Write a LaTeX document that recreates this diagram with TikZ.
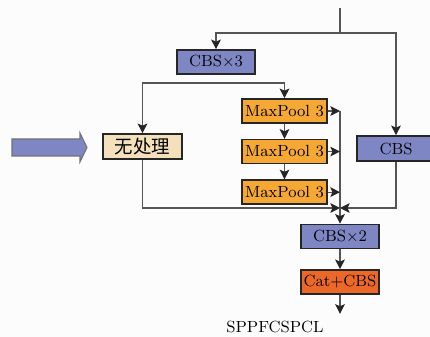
\documentclass[tikz,border=0pt]{standalone}
\usepackage{fontspec}
\newfontfamily\cjk{Noto Sans CJK SC}
\usetikzlibrary{arrows.meta, positioning, calc}

\definecolor{cbsblue}{RGB}{126,135,196}
\definecolor{poolorange}{RGB}{246,168,52}
\definecolor{catorange}{RGB}{236,104,40}
\definecolor{rawbeige}{RGB}{244,225,188}
\definecolor{linegray}{RGB}{85,85,85}

\begin{document}
\begin{tikzpicture}[x=0.02cm, y=-0.02cm]

    \tikzset
    {
        font={\fontsize{9.2}{10}\selectfont},
        block/.style={draw=black!85, line width=0.9pt, minimum height=0.48cm, inner sep=0pt},
        cbs/.style={block, fill=cbsblue, minimum width=1.56cm},
        pool/.style={block, fill=poolorange, minimum width=1.7cm},
        link/.style={draw=linegray, line width=0.6pt},
        arr/.style={link, -{Stealth[length=5.5pt,width=5.5pt,inset=1.2pt,color=black!85]}}
    }

    \clip (0,0) rectangle (430,337);
    \fill[black!1] (0,0) rectangle (430,337);

    % boxes
    \node[cbs] (cbsthree) at (216,62) {CBS$\times$3};
    \node[pool] (poolone) at (284.5,111) {MaxPool 3};
    \node[pool, below=0.3cm of poolone] (pooltwo) {MaxPool 3};
    \node[pool, below=0.3cm of pooltwo] (poolthree) {MaxPool 3};
    \node[block, fill=rawbeige, minimum width=1.58cm, minimum height=0.5cm, font={\fontsize{10.5}{11}\cjk}] (raw) at (142.5,146.5) {无处理};
    \node[cbs, minimum height=0.5cm] (cbsright) at (396,148.5) {CBS};
    \node[cbs] (cbstwo) at (340,236.5) {CBS$\times$2};
    \node[block, fill=catorange, minimum width=1.56cm] (catcbs) at (340,282) {Cat+CBS};
    \node (name) at (275,327) {SPPFCSPCL};

    % input arrow
    \draw[draw=black!55, fill=cbsblue, line width=0.6pt] (12,139) -- (80,139) -- (80,133) -- (87,147.5) -- (80,162) -- (80,156) -- (12,156) -- cycle;

    % top split
    \coordinate (top) at (340,8);
    \coordinate (split) at (340,33);
    \coordinate (merge) at (340,208);
    \draw[link] (top) -- (split);
    \draw[arr] (split) -| (cbsthree.north);
    \draw[arr] (split) -| (cbsright.north);

    % pooling branch
    \coordinate (fork) at (216,83);
    \draw[arr] (fork) -| (raw.north);
    \draw[arr] (fork) -| (poolone.north);
    \draw[arr] (poolone) -- (pooltwo);
    \draw[arr] (pooltwo) -- (poolthree);
    \draw[link] (poolone.east -| merge) -- (merge);
    \foreach \p in {poolone, pooltwo, poolthree}
    {
        \draw[arr] (\p.east) -- (\p.east -| merge);
    }

    % merge
    \draw[arr] (raw.south) |- (merge);
    \draw[arr] (cbsright.south) |- (merge);
    \draw[arr] (merge) -- (cbstwo.north);
    \draw[arr] (cbstwo) -- (catcbs);
    \draw[arr] (catcbs.south) -- ++(0,19);

\end{tikzpicture}
\end{document}
